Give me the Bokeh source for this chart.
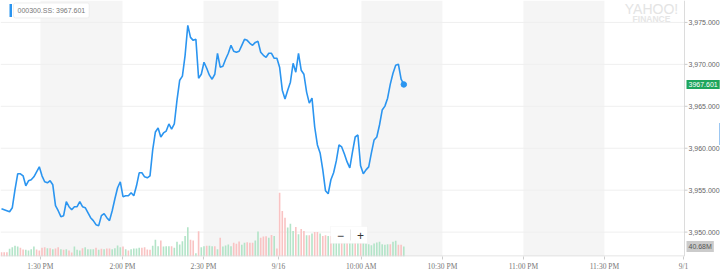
from bokeh.plotting import figure
from bokeh.models import (Range1d, FixedTicker, BoxAnnotation, Label, ColumnDataSource,
                          CustomJSTickFormatter)
from bokeh.core.properties import value
from bokeh.embed import file_html
from bokeh.resources import INLINE

# ---------------- data ----------------
symbol = "000300.SS"

prices = [
    3952.79, 3952.67, 3952.55, 3952.43, 3952.91, 3955.05, 3956.95, 3956.95, 3956.71, 3955.52,
    3956.12, 3956.24, 3956.59, 3957.19, 3957.78, 3956.71, 3956.00, 3955.88, 3956.12, 3955.64,
    3953.15, 3952.55, 3951.84, 3951.96, 3953.62, 3953.03, 3952.67, 3953.03, 3953.03, 3953.62,
    3953.03, 3952.91, 3952.32, 3951.72, 3951.37, 3950.89, 3950.77, 3951.96, 3952.20, 3951.72,
    3951.37, 3952.55, 3953.98, 3955.29, 3956.00, 3954.22, 3954.33, 3954.33, 3954.69, 3954.33,
    3955.52, 3957.07, 3957.07, 3956.59, 3956.47, 3956.71, 3959.80, 3961.94, 3962.41, 3961.34,
    3961.82, 3962.05, 3962.89, 3962.29, 3962.89, 3965.74, 3968.11, 3968.59, 3971.08, 3974.64,
    3973.22, 3972.86, 3972.98, 3968.35, 3968.82, 3970.25, 3969.54, 3968.71, 3968.23, 3968.82,
    3971.32, 3969.66, 3969.77, 3970.61, 3971.32, 3972.27, 3971.56, 3971.44, 3971.56, 3972.27,
    3972.98, 3972.86, 3972.51, 3972.27, 3972.62, 3972.74, 3971.44, 3971.08, 3970.84, 3971.32,
    3971.32, 3970.72, 3970.72, 3969.66, 3966.92, 3965.86, 3966.92, 3967.87, 3970.13, 3969.06,
    3971.32, 3969.30, 3968.82, 3966.69, 3965.38, 3965.97, 3962.53, 3960.39, 3959.44, 3957.42,
    3954.93, 3954.57, 3956.24, 3957.07, 3958.49, 3960.39, 3960.15, 3959.32, 3958.37, 3957.66,
    3959.56, 3961.34, 3961.58, 3957.90, 3956.95, 3957.42, 3957.78, 3959.44, 3960.99, 3961.34,
    3962.77, 3964.55, 3965.02, 3965.97, 3967.64, 3968.94, 3969.89, 3970.01, 3968.23, 3967.601,
]

# volume in millions
volumes = [
    17.5, 17.5, 17.5, 31.3, 37.9, 43.5, 40.7, 35.4, 28.5, 27.3,
    24.4, 29.7, 40.7, 28.5, 24.4, 35.4, 37.9, 33.8, 33.8, 29.7,
    32.6, 37.9, 29.7, 27.3, 29.7, 24.4, 16.3, 40.7, 27.3, 24.4,
    33.8, 37.9, 29.7, 29.7, 29.7, 35.4, 27.3, 31.3, 29.7, 32.6,
    32.6, 29.7, 33.8, 44.8, 37.9, 40.7, 29.7, 24.4, 29.7, 32.6,
    32.6, 35.4, 35.4, 37.9, 28.5, 27.3, 43.5, 68.0, 41.9, 65.1,
    40.7, 41.9, 41.9, 41.9, 35.4, 59.8, 48.8, 62.3, 84.2, 119.3,
    68.0, 65.1, 13.4, 103.0, 37.9, 41.9, 43.5, 43.5, 41.9, 41.9,
    29.7, 76.1, 40.7, 44.8, 48.8, 41.9, 55.8, 51.7, 61.1, 47.6,
    55.8, 58.2, 55.8, 55.8, 65.1, 101.8, 76.1, 81.4, 82.6, 76.1,
    87.5, 84.2, 32.6, 260.5, 186.0, 158.7, 118.0, 134.3, 104.6, 120.9,
    90.8, 112.7, 104.6, 86.7, 86.7, 93.6, 100.5, 100.5, 93.6, 84.2,
    86.7, 84.2, 84.2, 77.3, 70.4, 63.9, 77.3, 63.9, 57.0, 63.9,
    63.9, 70.4, 63.9, 57.0, 59.8, 52.9, 50.1, 46.0, 52.9, 57.0,
    59.8, 50.1, 47.6, 50.1, 50.1, 59.8, 63.9, 47.6, 47.6, 40.68,
]

# g = up minute, r = down minute
vol_dir = ("rrrggggrrg" "gggrrrrgrg" "rrgrgrrggg" "rggggrgrgr" "rggggrgrgg"
           "ggrrrrgggr" "gggrgggggg" "rrgrggrggr" "grggggrrrg" "grrrggrrrg"
           "rgrrrrgggr" "grrgrgrrgr" "rgrgggrgrg" "grgrgggggg" "ggggrggrrg")

minutes = list(range(len(prices)))

x_tick_pos = [14.4, 44.8, 74.8, 102.6, 133.3, 163.3, 193.3, 223.3, 252.6]
x_tick_labels = ["1:30 PM", "2:00 PM", "2:30 PM", "9/16", "10:00 AM",
                 "10:30 PM", "11:00 PM", "11:30 PM", "9/1"]
y_ticks = [3950, 3955, 3960, 3965, 3970, 3975]

# ---------------- layout constants ----------------
W, H = 720, 273
PLOT_W, FRAME_H = 684, 257     # chart area (axis line at x=684)
PPX = 2.7          # px per minute
PPY = 8.42         # px per index point
X0 = -1 / PPX
X1 = X0 + W / PPX
Y1 = 3975 + 22 / PPY
Y0 = Y1 - FRAME_H / PPY
VOL_MAX = FRAME_H * 4.07


def sx(px):
    return X0 + px / PPX


def sy(py):
    return Y1 - py / PPY


BLUE = "#2b95f0"
UP = "#b3e4c8"
DOWN = "#f9c3c3"
BAND = "#f5f5f5"
AXIS = "#dcdcdc"

p = figure(width=W, height=H, output_backend="svg", toolbar_location=None,
           x_range=Range1d(X0, X1), y_range=Range1d(Y0, Y1),
           y_axis_location=None,
           min_border_left=0, min_border_top=0, min_border_right=0,
           min_border_bottom=H - FRAME_H)
p.outline_line_color = None
p.background_fill_color = "white"
p.border_fill_color = "white"
p.extra_y_ranges = {"vol": Range1d(0, VOL_MAX)}
p.grid.visible = False

# alternating bands between every other pair of ticks
for a, b in zip(x_tick_pos[0::2], x_tick_pos[1::2]):
    p.add_layout(BoxAnnotation(left=a, right=b, fill_color=BAND, fill_alpha=1,
                               line_color=None, level="image"))

# horizontal grid lines (end at the price axis)
p.segment(x0=X0, x1=sx(PLOT_W), y0=y_ticks, y1=y_ticks, line_color="#efefef", line_width=1)

# bottom axis (ticks + labels from bokeh, line drawn to the price axis only)
xa = p.xaxis[0]
xa.ticker = FixedTicker(ticks=x_tick_pos)
xa.formatter = CustomJSTickFormatter(args=dict(labels=x_tick_labels),
                                     code="return labels[index];")
xa.axis_line_color = None
xa.major_tick_line_color = "#cccccc"
xa.major_tick_out = 3
xa.major_tick_in = 0
xa.minor_tick_line_color = None
xa.major_label_standoff = 2
xa.major_label_text_font = "Liberation Serif"
xa.major_label_text_font_size = "7.5px"
xa.major_label_text_color = "#777777"

# volume bars
vsrc = ColumnDataSource(dict(x=minutes, v=volumes,
                             c=[UP if d == "g" else DOWN for d in vol_dir]))
p.vbar(x="x", top="v", bottom=0, width=0.6, source=vsrc, fill_color="c",
       line_color=None, y_range_name="vol")

# axis lines
p.segment(x0=[X0], x1=[sx(PLOT_W)], y0=[sy(FRAME_H - 0.5)], y1=[sy(FRAME_H - 0.5)],
          line_color=AXIS, line_width=1)
p.segment(x0=[sx(PLOT_W)], x1=[sx(PLOT_W)], y0=[Y0], y1=[Y1], line_color=AXIS, line_width=1)

# right price axis: ticks and labels
p.segment(x0=sx(PLOT_W), x1=sx(PLOT_W + 3), y0=y_ticks, y1=y_ticks, line_color="#cccccc")
p.text(x=[sx(PLOT_W + 4)] * len(y_ticks), y=y_ticks,
       text=[f"{t:,.3f}" for t in y_ticks],
       text_font=value("Liberation Sans"), text_font_size="7px", text_color="#666666",
       text_baseline="middle", text_align="left")

# price line
p.line(minutes, prices, line_color=BLUE, line_width=1.6)
p.scatter([minutes[-1]], [prices[-1]], size=5.5, color=BLUE)

# last price tag on the axis
p.add_layout(Label(x=sx(686), y=prices[-1], text=f"{prices[-1]:.3f}",
                   text_font="Liberation Sans", text_font_size="7px",
                   text_color="white", text_baseline="middle", text_align="left",
                   background_fill_color="#1fa65d", padding=2))
# last volume tag
p.add_layout(Label(x=sx(686), y=volumes[-1], y_range_name="vol",
                   text=f"{volumes[-1]:.2f}M",
                   text_font="Liberation Sans", text_font_size="7px",
                   text_color="#555555", text_baseline="middle", text_align="left",
                   background_fill_color="#cbcbcb", padding=2))

# legend box top-left
p.add_layout(Label(x=sx(13), y=sy(10), text=f"{symbol}: {prices[-1]:.3f}",
                   text_font="Liberation Sans", text_font_size="7px",
                   text_color="#777777", text_baseline="middle", text_align="left",
                   background_fill_color="white", border_line_color="#eeeeee",
                   padding=4, border_radius=2))
p.add_layout(BoxAnnotation(left=sx(9), right=sx(11.5), top=sy(3.5), bottom=sy(16.5),
                           fill_color=BLUE, fill_alpha=1, line_color=None))

# watermark
p.add_layout(Label(x=sx(651), y=sy(9), text="YAHOO!", text_font="Liberation Sans",
                   text_font_size="14px", text_color="#e4e4e4", text_align="center",
                   text_baseline="middle"))
p.add_layout(Label(x=sx(651), y=sy(19), text="FINANCE", text_font="Liberation Sans",
                   text_font_size="8.5px", text_font_style="bold", text_color="#e6e6e6",
                   text_align="center", text_baseline="middle"))

# zoom control
p.add_layout(BoxAnnotation(left=sx(330), right=sx(367), top=sy(227), bottom=sy(244),
                           fill_color="white", fill_alpha=0.95, line_color="#ececec"))
p.add_layout(BoxAnnotation(left=sx(349.5), right=sx(350.3), top=sy(230), bottom=sy(241),
                           fill_color="#e2e2e2", fill_alpha=1, line_color=None))
p.add_layout(Label(x=sx(340), y=sy(235.5), text="\u2212", text_font="Liberation Sans",
                   text_font_size="12px", text_color="#333333", text_align="center",
                   text_baseline="middle"))
p.add_layout(Label(x=sx(360), y=sy(235.5), text="+", text_font="Liberation Sans",
                   text_font_size="12px", text_color="#333333", text_align="center",
                   text_baseline="middle"))

# small scroll marker at the right edge
p.add_layout(BoxAnnotation(left=sx(718.5), right=sx(720), top=sy(123), bottom=sy(145),
                           fill_color="#9cc7f2", fill_alpha=1, line_color=None))

open("out.html", "w").write(file_html(p, INLINE))
